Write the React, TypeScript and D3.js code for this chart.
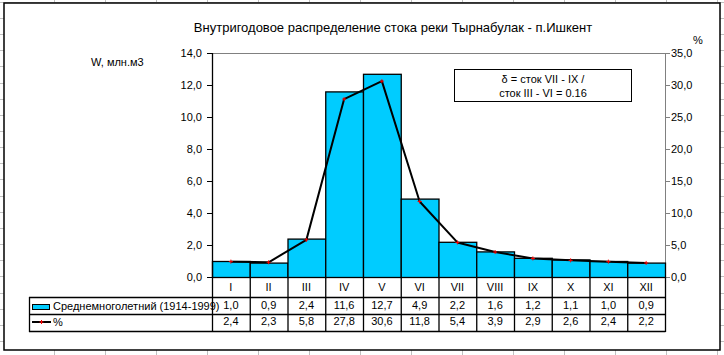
import React from "react";
import * as d3 from "d3";

const categories = ["I", "II", "III", "IV", "V", "VI", "VII", "VIII", "IX", "X", "XI", "XII"];
const volumeValues = [1.0, 0.9, 2.4, 11.6, 12.7, 4.9, 2.2, 1.6, 1.2, 1.1, 1.0, 0.9];
const percentValues = [2.4, 2.3, 5.8, 27.8, 30.6, 11.8, 5.4, 3.9, 2.9, 2.6, 2.4, 2.2];
const leftTicks = [0, 2, 4, 6, 8, 10, 12, 14];
const rightTicks = [0, 5, 10, 15, 20, 25, 30, 35];
const seriesNames = ["Среднемноголетний (1914-1999)", "%"];
const titleText = "Внутригодовое распределение стока реки Тырнабулак - п.Ишкент";
const leftAxisTitle = "W, млн.м3";
const rightAxisTitle = "%";
const noteLines = ["δ = сток VII - IX /", "сток III - VI = 0.16"];

const W = 724;
const H = 355;
const FONT = "'Liberation Sans', Arial, sans-serif";
const fmt = (v: number) => v.toFixed(1).replace(".", ",");

export default function App() {
  const plotL = 212, plotR = 665, plotT = 53, plotB = 277;
  const x = d3.scaleBand<string>().domain(categories).range([plotL, plotR]).padding(0);
  const yL = d3.scaleLinear().domain([0, 14]).range([plotB, plotT]);
  const yR = d3.scaleLinear().domain([0, 35]).range([plotB, plotT]);
  const bw = x.bandwidth();
  const line = d3
    .line<number>()
    .x((_, i) => (x(categories[i]) as number) + bw / 2)
    .y((d) => yR(d));

  const tableL = 29;
  const rowCatB = 297;
  const row1B = 314;
  const row2B = 331;

  // spreadsheet grid background
  const gridCols = d3.range(0, 15).map((k) => 54 + 51 * k);
  const gridRows = d3.range(0, 23).map((k) => 1.85 + 16.15 * k);

  return (
    <svg width={W} height={H} style={{ position: "absolute", left: 0, top: 0, background: "#fff" }} fontFamily={FONT}>
      {gridCols.map((c, i) => (
        <line key={"gc" + i} x1={Math.round(c) + 0.5} x2={Math.round(c) + 0.5} y1={0} y2={H} stroke="#c0c0c0" />
      ))}
      {gridRows.map((r, i) => (
        <line key={"gr" + i} x1={0} x2={W} y1={Math.round(r) + 0.5} y2={Math.round(r) + 0.5} stroke="#c0c0c0" />
      ))}
      {/* chart area */}
      <rect x={4} y={3} width={716} height={347} fill="#fff" stroke="#000" strokeWidth={1.5} />

      <text x={393} y={32} textAnchor="middle" fontSize={13} fill="#000">{titleText}</text>
      <text x={91} y={66} fontSize={11} fill="#000">{leftAxisTitle}</text>
      <text x={698} y={44} textAnchor="middle" fontSize={11} fill="#000">{rightAxisTitle}</text>

      {/* plot area frame */}
      <line x1={plotL} x2={plotR} y1={plotT + 0.5} y2={plotT + 0.5} stroke="#808080" />
      <line x1={plotR + 0.5} x2={plotR + 0.5} y1={plotT} y2={plotB} stroke="#808080" />

      {/* bars */}
      {volumeValues.map((v, i) => (
        <rect
          key={"b" + i}
          x={(x(categories[i]) as number) + 0.5}
          y={yL(v) + 0.5}
          width={bw}
          height={plotB - yL(v)}
          fill="#00CCFF"
          stroke="#000"
          strokeWidth={1.3}
        />
      ))}

      {/* left axis */}
      <line x1={plotL + 0.5} x2={plotL + 0.5} y1={plotT} y2={plotB} stroke="#000" strokeWidth={1.3} />
      {leftTicks.map((t) => (
        <g key={"lt" + t}>
          <line x1={207} x2={plotL} y1={Math.round(yL(t)) + 0.5} y2={Math.round(yL(t)) + 0.5} stroke="#000" />
          <text x={202} y={yL(t) + 4} textAnchor="end" fontSize={11} fill="#000">{fmt(t)}</text>
        </g>
      ))}
      {/* right axis */}
      {rightTicks.map((t) => (
        <g key={"rt" + t}>
          <line x1={plotR} x2={plotR + 5} y1={Math.round(yR(t)) + 0.5} y2={Math.round(yR(t)) + 0.5} stroke="#808080" />
          <text x={671} y={yR(t) + 4} fontSize={11} fill="#000">{fmt(t)}</text>
        </g>
      ))}

      {/* line series */}
      <path d={line(percentValues) || ""} fill="none" stroke="#000" strokeWidth={2} strokeLinejoin="round" />
      {percentValues.map((v, i) => {
        const cx = (x(categories[i]) as number) + bw / 2;
        const cy = yR(v);
        return (
          <path key={"m" + i} d={`M${cx - 2},${cy}H${cx + 2}M${cx},${cy - 2}V${cy + 2}`} stroke="#ff0000" strokeWidth={1} />
        );
      })}

      {/* note box */}
      <rect x={454.5} y={69.5} width={177} height={32} fill="#fff" stroke="#000" />
      <text x={543} y={83} textAnchor="middle" fontSize={11} fill="#000">{noteLines[0]}</text>
      <text x={543} y={97} textAnchor="middle" fontSize={11} fill="#000">{noteLines[1]}</text>

      {/* data table */}
      <g stroke="#000" strokeWidth={1.3}>
        <line x1={tableL} x2={plotR + 0.5} y1={rowCatB + 0.5} y2={rowCatB + 0.5} />
        <line x1={tableL} x2={plotR + 0.5} y1={row1B + 0.5} y2={row1B + 0.5} />
        <line x1={tableL} x2={plotR + 0.5} y1={row2B + 0.5} y2={row2B + 0.5} />
        <line x1={tableL + 0.5} x2={tableL + 0.5} y1={rowCatB} y2={row2B + 1} />
        {categories.map((c, i) => (
          <line key={"tv" + i} x1={(x(c) as number) + 0.5} x2={(x(c) as number) + 0.5} y1={plotB} y2={row2B + 1} />
        ))}
        <line x1={plotR + 0.5} x2={plotR + 0.5} y1={plotB} y2={row2B + 1} />
      </g>
      {categories.map((c, i) => {
        const cx = (x(c) as number) + bw / 2;
        return (
          <g key={"tt" + i} fontSize={11} fill="#000" textAnchor="middle">
            <text x={cx} y={291}>{c}</text>
            <text x={cx} y={309}>{fmt(volumeValues[i])}</text>
            <text x={cx} y={325}>{fmt(percentValues[i])}</text>
          </g>
        );
      })}
      {/* legend keys */}
      <rect x={32.5} y={304.5} width={17} height={5} fill="#00CCFF" stroke="#000" />
      <text x={53} y={310} fontSize={11} fill="#000">{seriesNames[0]}</text>
      <line x1={32} x2={51} y1={322} y2={322} stroke="#000" strokeWidth={2} />
      <path d="M39.5,322H43.5M41.5,320V324" stroke="#ff0000" strokeWidth={1} />
      <text x={53} y={326} fontSize={11} fill="#000">{seriesNames[1]}</text>
    </svg>
  );
}
